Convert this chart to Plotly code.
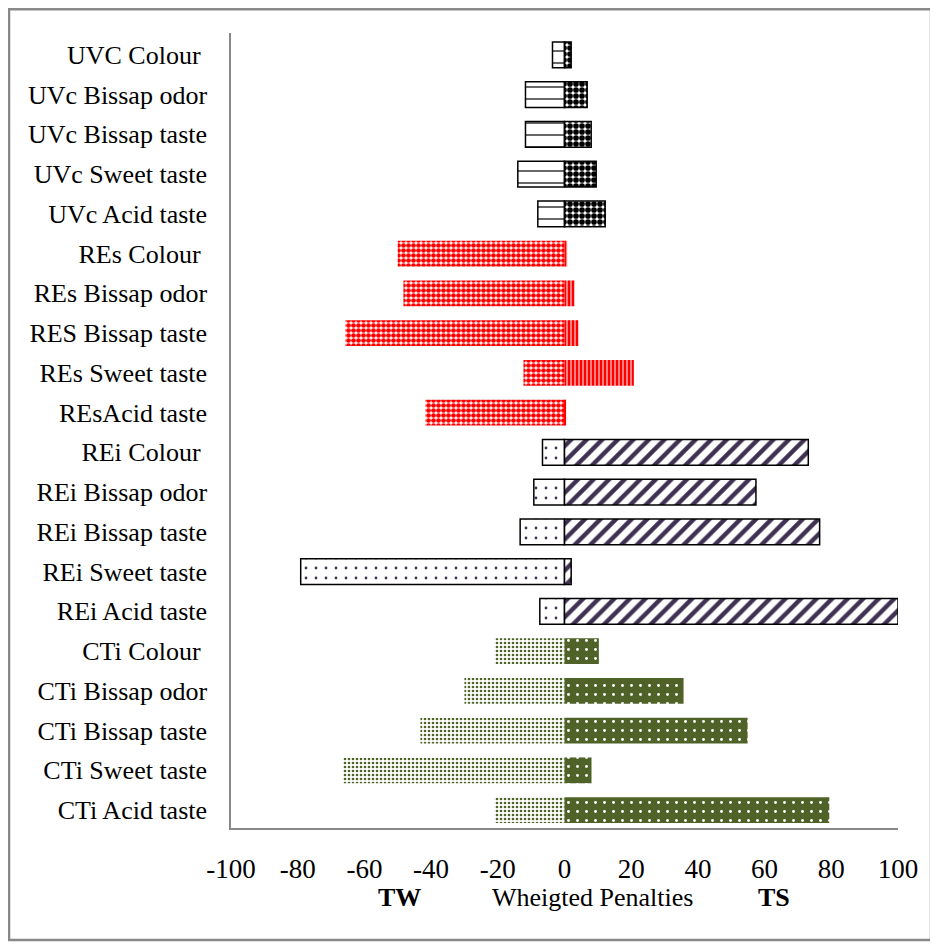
import plotly.graph_objects as go

# penalty analysis: TW (too weak, negative) vs TS (too strong, positive)
cti_labels = ["CTi Acid taste", "CTi Sweet taste", "CTi Bissap taste", "CTi Bissap odor", "CTi Colour "]
rei_labels = ["REi Acid taste", "REi Sweet taste", "REi Bissap taste", "REi Bissap odor", "REi Colour "]
res_labels = ["REsAcid taste", "REs Sweet taste", "RES Bissap taste", "REs Bissap odor", "REs Colour "]
uvc_labels = ["UVc Acid taste", "UVc Sweet taste", "UVc Bissap taste", "UVc Bissap odor", "UVC Colour "]

cti_tw = [-21, -66.4, -43.2, -30, -21]
cti_ts = [79.4, 8.1, 54.9, 35.7, 10.3]
rei_tw = [-7.4, -79.1, -13.3, -9.2, -6.6]
rei_ts = [100, 2, 76.5, 57.4, 73.1]
res_tw = [-41.7, -12.3, -65.7, -48.3, -50]
res_ts = [0.5, 20.8, 4.2, 3, 0.8]
uvc_tw = [-8, -14, -11.7, -11.7, -3.6]
uvc_ts = [12.2, 9.5, 8, 6.8, 2]

tick_vals = [-100, -80, -60, -40, -20, 0, 20, 40, 60, 80, 100]
tick_text = ["-100", "-80", "-60", "-40", "-20", "0", "20", "40", "60", "80", "100"]

category_order = cti_labels + rei_labels + res_labels + uvc_labels

font_family = "Liberation Serif, Times New Roman, serif"
olive = "#4f6228"
purple = "#3f3151"
red = "#ff0000"

fig = go.Figure()


def add_bar(labels, values, pattern, line_color=None, color="white"):
    pattern = dict(pattern, fgopacity=1, fillmode="replace")
    fig.add_trace(go.Bar(
        y=labels, x=values, orientation="h", width=0.65,
        marker=dict(
            color=color,
            pattern=pattern,
            line=dict(color=line_color or "rgba(0,0,0,0)", width=1.5 if line_color else 0),
        ),
        showlegend=False, hoverinfo="x+y",
    ))


add_bar(cti_labels, cti_tw, dict(shape=".", fgcolor=olive, bgcolor="white", size=4, solidity=0.35))
add_bar(cti_labels, cti_ts, dict(shape=".", fgcolor="white", bgcolor=olive, size=9, solidity=0.08), color=olive)
add_bar(rei_labels, rei_tw, dict(shape=".", fgcolor=purple, bgcolor="white", size=10, solidity=0.06), "black")
add_bar(rei_labels, rei_ts, dict(shape="/", fgcolor=purple, bgcolor="white", size=11, solidity=0.4), "black")
add_bar(res_labels, res_tw, dict(shape=".", fgcolor=red, bgcolor="white", size=5, solidity=0.7))
add_bar(res_labels, res_ts, dict(shape="|", fgcolor=red, bgcolor="white", size=4, solidity=0.75))
add_bar(uvc_labels, uvc_tw, dict(shape="-", fgcolor="black", bgcolor="white", size=12, solidity=0.1), "black")
add_bar(uvc_labels, uvc_ts, dict(shape=".", fgcolor="black", bgcolor="white", size=6, solidity=0.7), "black")

fig.update_layout(
    width=930, height=939,
    barmode="relative",
    plot_bgcolor="white", paper_bgcolor="white",
    margin=dict(l=223, r=40, t=25, b=119),
    font=dict(family=font_family, size=26, color="black"),
    xaxis=dict(
        range=[-100, 100], tickvals=tick_vals, ticktext=tick_text,
        showgrid=False, zeroline=False, showline=True, linecolor="#888888", linewidth=1.5,
        ticks="", ticklabelstandoff=16, tickfont=dict(size=27),
    ),
    yaxis=dict(
        categoryorder="array", categoryarray=category_order,
        range=[-0.45, 19.55],
        showgrid=False, zeroline=False, showline=True, linecolor="#888888", linewidth=1.5,
        ticks="", ticklabelstandoff=17, tickfont=dict(size=26),
    ),
    shapes=[dict(
        type="rect", xref="paper", yref="paper",
        x0=-0.3328, x1=1.0495, y0=-0.1409, y1=1.0299,
        line=dict(color="#888888", width=2.5),
    )],
    annotations=[
        dict(text="<b>TW</b>", x=-49.5, y=-0.088, xref="x", yref="paper", yanchor="middle",
             showarrow=False, font=dict(size=26)),
        dict(text="Wheigted Penalties", x=8.5, y=-0.088, xref="x", yref="paper", yanchor="middle",
             showarrow=False, font=dict(size=26)),
        dict(text="<b>TS</b>", x=62.7, y=-0.088, xref="x", yref="paper", yanchor="middle",
             showarrow=False, font=dict(size=26)),
    ],
)

fig.write_html("out.html")
